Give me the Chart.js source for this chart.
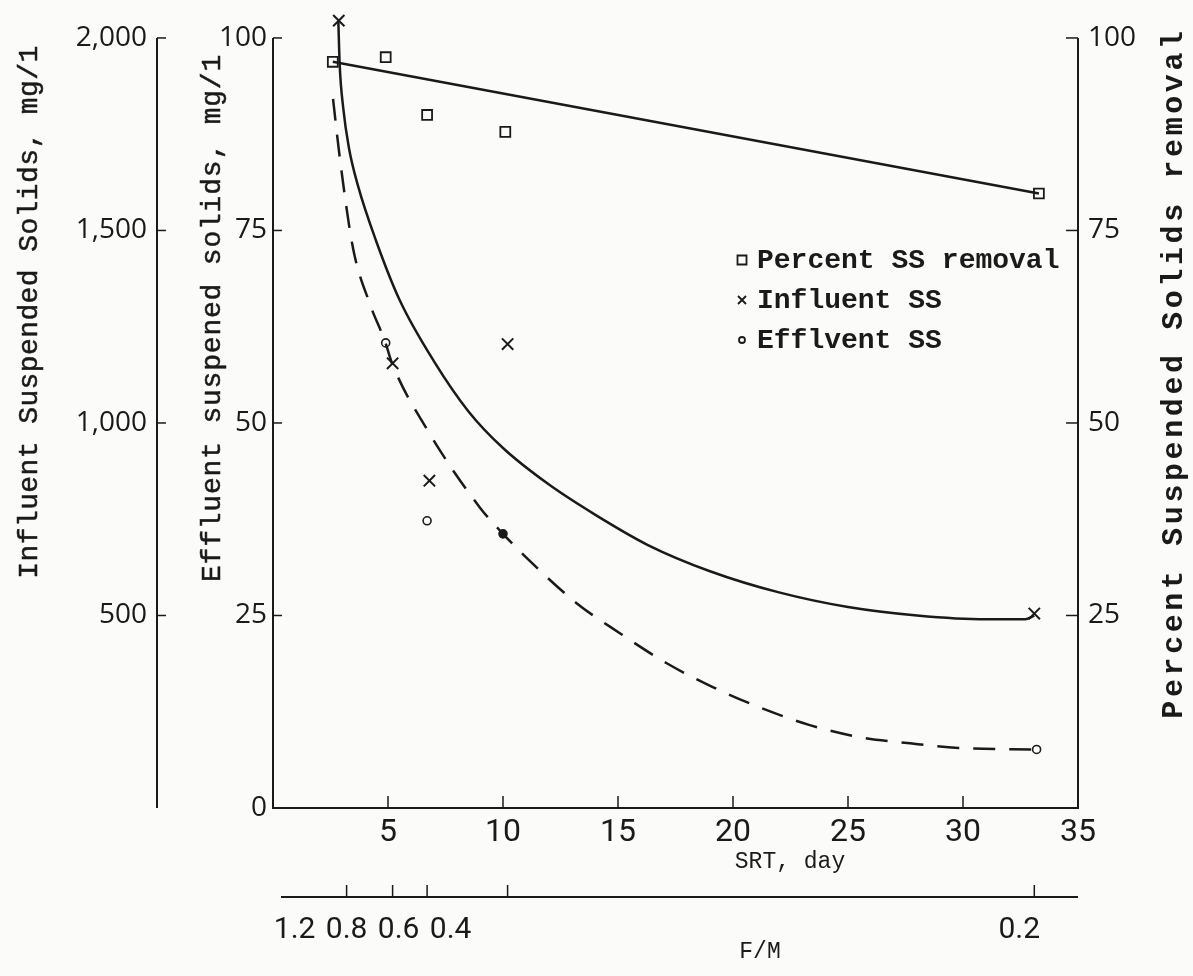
<!DOCTYPE html>
<html>
<head>
<meta charset="utf-8">
<title>SRT vs suspended solids</title>
<script src="https://cdn.jsdelivr.net/npm/chart.js@4.4.1/dist/chart.umd.min.js"></script>
<style>
  html, body { margin: 0; padding: 0; background: #fbfbfa; }
  #wrap { width: 1193px; height: 976px; }
</style>
</head>
<body>
<div id="wrap"><canvas id="chart" width="1193" height="976"></canvas></div>
<script>
// measured points, SRT in days
const pctSrt = [2.6, 4.9, 6.7, 10.1, 33.3];
const pctRemoval = [96.9, 97.5, 90.0, 87.8, 79.8];

const infSrt = [2.86, 5.2, 6.8, 10.2, 33.1];
const infSS = [2045, 1155, 850, 1205, 505];

const effSrt = [4.9, 6.7, 10.0, 33.2];
const effSS = [60.4, 37.3, 35.6, 7.6];

// curves drawn through the data by hand
const pctFitSrt = [2.6, 33.3];
const pctFit = [96.9, 79.8];

const infFitSrt = [2.84, 2.9, 3.05, 3.3, 3.7, 4.5, 5.5, 7.0, 8.5, 10.0, 12.0, 14.0, 16.3, 19.0, 22.0, 25.0, 28.0, 31.0, 32.7, 33.1];
const infFit = [2045, 1930, 1820, 1715, 1615, 1470, 1320, 1160, 1030, 935, 840, 762, 683, 615, 560, 522, 500, 490, 490, 500];

const effFitSrt = [2.61, 2.91, 3.48, 4.22, 4.87, 5.17, 6.69, 9.0, 10.0, 11.3, 13.2, 15.08, 17.12, 19.12, 21.47, 23.3, 25.5, 27.7, 29.8, 33.1];
const effFit = [92.1, 84.3, 72.7, 65.4, 60.6, 57.8, 49.2, 39.0, 35.6, 31.7, 26.6, 22.7, 18.8, 15.7, 12.7, 10.8, 9.2, 8.4, 7.8, 7.6];

// tick values
const srtTicks = [5, 10, 15, 20, 25, 30, 35];
const effTicks = [0, 25, 50, 75, 100];
const infTicks = [500, 1000, 1500, 2000];
const pctTicks = [25, 50, 75, 100];
const fmLabels = ['1.2', '0.8', '0.6', '0.4', '0.2'];
const fmSrt = [3.2, 5.2, 6.7, 10.2, 33.1];

// axes run a little past 100 so the top influent point fits
const headroom = 1.0363;

const ink = '#1a1a1a';
const tickFont = { family: "'Open Sans', sans-serif", size: 28 };
const narrowFont = "'Liberation Sans Narrow', Roboto, sans-serif";
const typeFont = "'Liberation Mono', 'DejaVu Sans Mono', monospace";

function pts(xs, ys) {
  return xs.map((x, i) => ({ x: x, y: ys[i] }));
}

function fixedTicks(list) {
  return function(scale) {
    scale.ticks = list.map(v => ({ value: v }));
  };
}

function vText(ctx, text, cx, cy, font, spacing, heavy) {
  ctx.save();
  ctx.translate(cx, cy);
  ctx.rotate(-Math.PI / 2);
  ctx.font = font;
  ctx.letterSpacing = spacing || '0px';
  ctx.textAlign = 'center';
  ctx.textBaseline = 'middle';
  ctx.fillText(text, 0, 0);
  if (heavy) {
    ctx.lineWidth = heavy;
    ctx.strokeText(text, 0, 0);
  }
  ctx.restore();
}

// axis lines that stop at the top tick, inward tick marks
const axesPlugin = {
  id: 'axesInk',
  afterDraw(chart) {
    let ctx = chart.ctx,
        sc = chart.scales;

    ctx.save();
    ctx.strokeStyle = ink;

    [['yInf', sc.yInf.right, 9, 2000], ['y', sc.y.right, 9, 100], ['yPct', sc.yPct.left, -12, 100]].forEach(a => {
      let s = sc[a[0]], x = a[1];
      ctx.lineWidth = 2;
      ctx.beginPath();
      ctx.moveTo(x, s.getPixelForValue(0));
      ctx.lineTo(x, s.getPixelForValue(a[3]));
      ctx.stroke();
      ctx.lineWidth = 1.5;
      s.ticks.forEach(t => {
        let y = s.getPixelForValue(t.value);
        ctx.beginPath();
        ctx.moveTo(x, y);
        ctx.lineTo(x + a[2], y);
        ctx.stroke();
      });
    });

    ctx.lineWidth = 1.5;
    sc.x.ticks.forEach(t => {
      let x = sc.x.getPixelForValue(t.value);
      ctx.beginPath();
      ctx.moveTo(x, sc.x.top);
      ctx.lineTo(x, sc.x.top - 12);
      ctx.stroke();
    });
    ctx.restore();
  }
};

// F/M axis, titles and legend
const extrasPlugin = {
  id: 'extras',
  afterDraw(chart) {
    let ctx = chart.ctx,
        xs = chart.scales.x,
        area = chart.chartArea;

    ctx.save();
    ctx.fillStyle = ink;
    ctx.strokeStyle = ink;

    ctx.font = '23px ' + typeFont;
    ctx.textAlign = 'center';
    ctx.textBaseline = 'middle';
    ctx.fillText('SRT, day', 790, 862);
    ctx.fillText('F/M', 760, 952);

    // F/M scale under the SRT axis
    let fmY = 897;
    ctx.lineWidth = 2;
    ctx.beginPath();
    ctx.moveTo(area.left + 8, fmY);
    ctx.lineTo(area.right, fmY);
    ctx.stroke();
    ctx.lineWidth = 1.5;
    let px = fmSrt.map(v => xs.getPixelForValue(v));
    px.forEach(p => {
      ctx.beginPath();
      ctx.moveTo(p, fmY);
      ctx.lineTo(p, fmY - 12);
      ctx.stroke();
    });
    // crowded labels were typed side by side
    ctx.font = '30px ' + narrowFont;
    let prev = null;
    px.forEach((p, i) => {
      let c;
      if (prev === null) c = p - 52;
      else c = (p - prev < 120) ? prev + 52 : p - 15;
      ctx.fillText(fmLabels[i], c, 930);
      prev = c;
    });

    // legend
    let lx = 742, ly = 260, rowH = 40;
    chart.data.datasets.filter(d => d.legendText).forEach((d, i) => {
      let y = ly + i * rowH;
      ctx.lineWidth = 1.8;
      ctx.beginPath();
      if (d.pointStyle === 'rect') {
        ctx.rect(lx - 4.5, y - 4.5, 9, 9);
      } else if (d.pointStyle === 'crossRot') {
        ctx.moveTo(lx - 4, y - 4); ctx.lineTo(lx + 4, y + 4);
        ctx.moveTo(lx + 4, y - 4); ctx.lineTo(lx - 4, y + 4);
      } else {
        ctx.arc(lx, y, 3, 0, Math.PI * 2);
      }
      ctx.stroke();
      ctx.font = 'bold 28px ' + typeFont;
      ctx.textAlign = 'left';
      ctx.fillText(d.legendText, lx + 15, y + 1);
    });

    vText(ctx, 'Influent Suspended Solids, mg/1', 30, 312, '28px ' + typeFont, '0.4px', 0.5);
    vText(ctx, 'Effluent suspened solids, mg/1', 213, 318, '28px ' + typeFont, '0.8px', 0.5);
    vText(ctx, 'Percent Suspended Solids removal', 1174, 373, 'bold 30px ' + typeFont, '3.6px');
    ctx.restore();
  }
};

function leftAxis(weight, width, max, list, pad, fmt) {
  return {
    type: 'linear', position: 'left', weight: weight, min: 0, max: max,
    afterBuildTicks: fixedTicks(list),
    afterFit: s => { s.width = width; s.paddingTop = 0; s.paddingBottom = 0; },
    border: { display: false },
    grid: { display: false, drawTicks: false },
    ticks: { color: ink, padding: pad, font: tickFont, callback: fmt }
  };
}

function buildChart() {
  let ctx = document.getElementById('chart');

  return new Chart(ctx, {
    type: 'scatter',
    data: {
      datasets: [
        {
          label: 'pct fit', data: pts(pctFitSrt, pctFit), yAxisID: 'yPct',
          showLine: true, pointRadius: 0, borderColor: ink, borderWidth: 2.5
        },
        {
          label: 'influent fit', data: pts(infFitSrt, infFit), yAxisID: 'yInf',
          showLine: true, pointRadius: 0, borderColor: ink, borderWidth: 2.5,
          cubicInterpolationMode: 'monotone'
        },
        {
          label: 'effluent fit', data: pts(effFitSrt, effFit), yAxisID: 'y',
          showLine: true, pointRadius: 0, borderColor: ink, borderWidth: 2.5,
          borderDash: [22, 14], cubicInterpolationMode: 'monotone'
        },
        {
          label: 'Percent SS removal', legendText: 'Percent SS removal',
          data: pts(pctSrt, pctRemoval), yAxisID: 'yPct',
          pointStyle: 'rect', pointRadius: 7, borderWidth: 1.8,
          borderColor: ink, backgroundColor: 'rgba(0,0,0,0)'
        },
        {
          label: 'Influent SS', legendText: 'Influent SS',
          data: pts(infSrt, infSS), yAxisID: 'yInf',
          pointStyle: 'crossRot', pointRadius: 8, borderWidth: 2,
          borderColor: ink
        },
        {
          label: 'Efflvent SS', legendText: 'Efflvent SS',
          data: pts(effSrt, effSS), yAxisID: 'y',
          pointStyle: 'circle', pointRadius: 4, borderWidth: 1.6,
          borderColor: ink,
          backgroundColor: effSS.map((v, i) => i === 2 ? ink : 'rgba(0,0,0,0)')
        }
      ]
    },
    options: {
      responsive: false,
      animation: false,
      devicePixelRatio: 1,
      layout: { padding: { top: 8, left: 0, right: 0, bottom: 0 } },
      plugins: { legend: { display: false }, tooltip: { enabled: false } },
      scales: {
        x: {
          type: 'linear', position: 'bottom', min: 0, max: 35,
          afterBuildTicks: fixedTicks(srtTicks),
          afterFit: s => { s.height = 168; s.paddingLeft = 0; s.paddingRight = 0; },
          border: { display: true, color: ink, width: 2 },
          grid: { display: false, drawTicks: false },
          ticks: { color: ink, padding: 6, maxRotation: 0, font: { family: narrowFont, size: 32 } }
        },
        yInf: leftAxis(2, 157, 2000 * headroom, infTicks, 10, v => v.toLocaleString('en-US')),
        y: leftAxis(1, 116, 100 * headroom, effTicks, 6),
        yPct: {
          type: 'linear', position: 'right', min: 0, max: 100 * headroom,
          afterBuildTicks: fixedTicks(pctTicks),
          afterFit: s => { s.width = 115; s.paddingTop = 0; s.paddingBottom = 0; },
          border: { display: false },
          grid: { display: false, drawTicks: false },
          ticks: { color: ink, padding: 10, font: tickFont }
        }
      }
    },
    plugins: [axesPlugin, extrasPlugin]
  });
}

buildChart();
</script>
</body>
</html>
